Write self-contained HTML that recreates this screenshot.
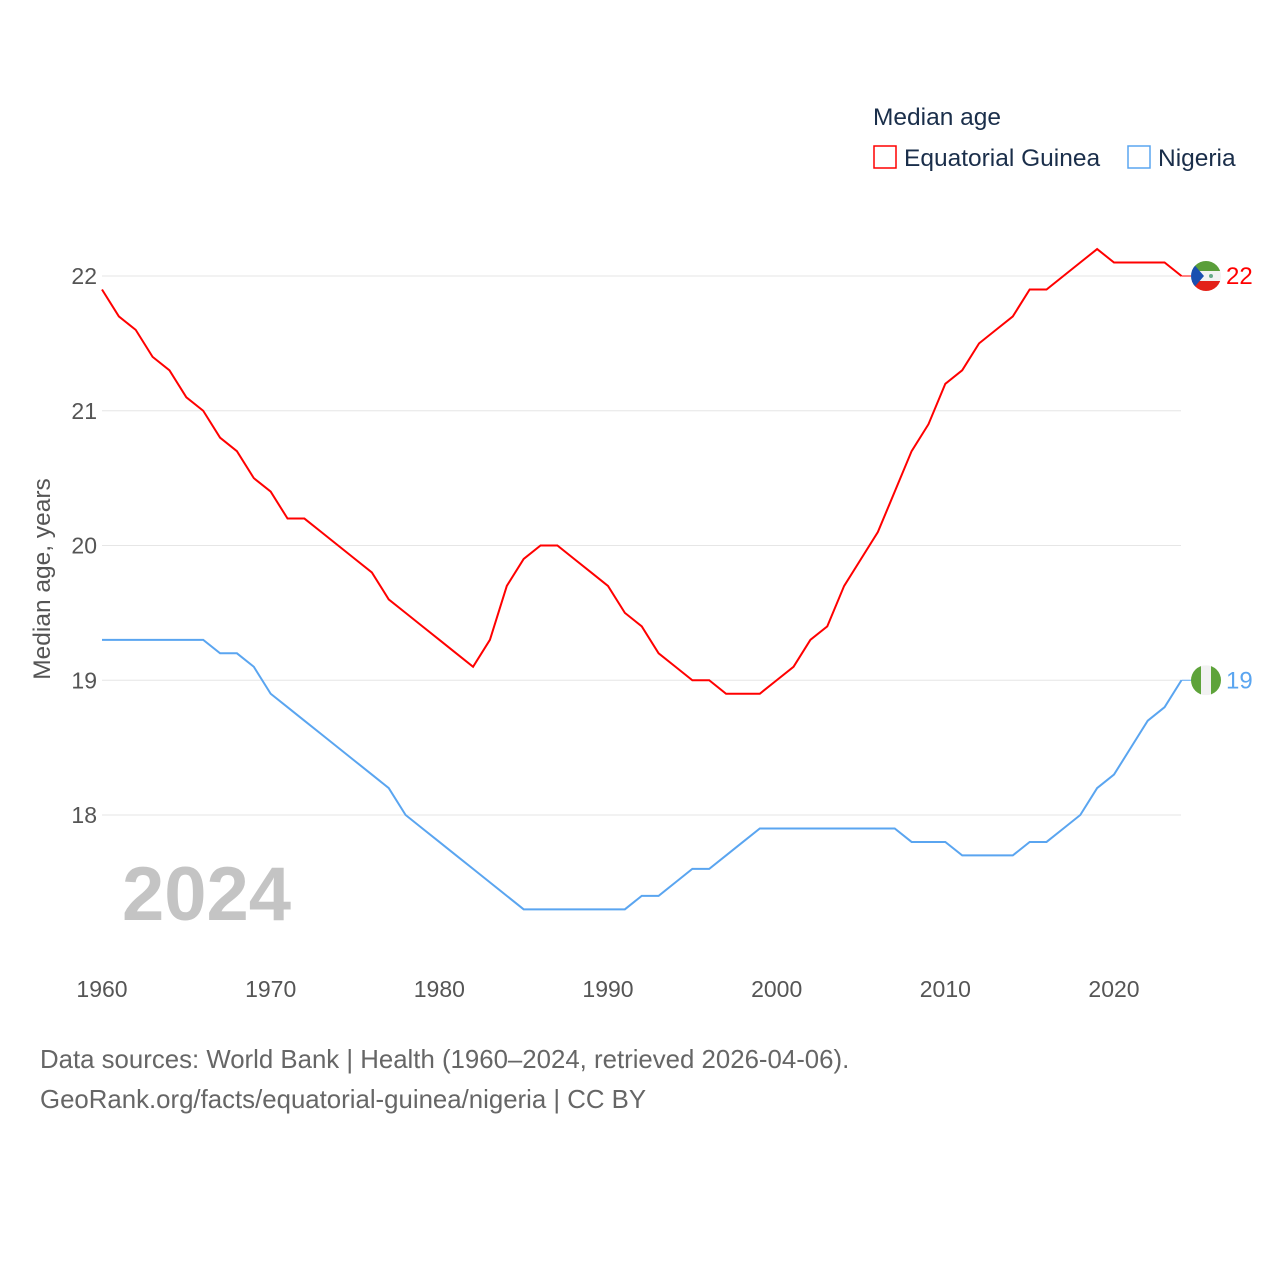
<!DOCTYPE html>
<html><head><meta charset="utf-8"><style>
body{margin:0;background:#fff;font-family:"Liberation Sans",sans-serif}
svg text{font-family:"Liberation Sans",sans-serif}
</style></head><body>
<svg id="c" width="1280" height="1280" viewBox="0 0 1280 1280">
<text x="873" y="125" font-size="24.5" fill="#1a2e4a">Median age</text>
<rect x="874" y="146" width="22" height="22" fill="none" stroke="#f00" stroke-width="1.5"/>
<text x="904" y="166" font-size="24.5" fill="#1a2e4a">Equatorial Guinea</text>
<rect x="1128" y="146" width="22" height="22" fill="none" stroke="#5aa5f0" stroke-width="1.5"/>
<text x="1158" y="166" font-size="24.5" fill="#1a2e4a">Nigeria</text>
<text transform="translate(50,579) rotate(-90)" text-anchor="middle" font-size="24.5" fill="#555">Median age, years</text>
<text x="122" y="920" font-size="76" font-weight="bold" fill="#c4c4c4">2024</text>
<g id="grid"></g><g id="lines"></g>
<text x="40" y="1068" font-size="25.8" fill="#666">Data sources: World Bank | Health (1960–2024, retrieved 2026-04-06).</text>
<text x="40" y="1108" font-size="25.8" fill="#666">GeoRank.org/facts/equatorial-guinea/nigeria | CC BY</text>
</svg>
<script>
const years=[];for(let y=1960;y<=2024;y++)years.push(y);
const eqGuinea=[21.9,21.7,21.6,21.4,21.3,21.1,21.0,20.8,20.7,20.5,20.4,20.2,20.2,20.1,20.0,19.9,19.8,19.6,19.5,19.4,19.3,19.2,19.1,19.3,19.7,19.9,20.0,20.0,19.9,19.8,19.7,19.5,19.4,19.2,19.1,19.0,19.0,18.9,18.9,18.9,19.0,19.1,19.3,19.4,19.7,19.9,20.1,20.4,20.7,20.9,21.2,21.3,21.5,21.6,21.7,21.9,21.9,22.0,22.1,22.2,22.1,22.1,22.1,22.1,22.0];
const nigeria=[19.3,19.3,19.3,19.3,19.3,19.3,19.3,19.2,19.2,19.1,18.9,18.8,18.7,18.6,18.5,18.4,18.3,18.2,18.0,17.9,17.8,17.7,17.6,17.5,17.4,17.3,17.3,17.3,17.3,17.3,17.3,17.3,17.4,17.4,17.5,17.6,17.6,17.7,17.8,17.9,17.9,17.9,17.9,17.9,17.9,17.9,17.9,17.9,17.8,17.8,17.8,17.7,17.7,17.7,17.7,17.8,17.8,17.9,18.0,18.2,18.3,18.5,18.7,18.8,19.0];
const yTicks=[18,19,20,21,22];
const xTicks=[1960,1970,1980,1990,2000,2010,2020];
const X=y=>102+(y-1960)*1012/60, Y=v=>815-(v-18)*134.75;
const NS='http://www.w3.org/2000/svg';
function mk(t,a,p){const e=document.createElementNS(NS,t);for(const k in a)e.setAttribute(k,a[k]);p.appendChild(e);return e;}
const g=document.getElementById('grid'),L=document.getElementById('lines');
yTicks.forEach(v=>{
 const l=mk('line',{x1:102,x2:1181,y1:Y(v),y2:Y(v),stroke:'#e6e6e6'},g);
 
 
 const t=mk('text',{x:97,y:Y(v)+8,'text-anchor':'end','font-size':23,fill:'#555'},g);t.textContent=v;
 
 
});
xTicks.forEach(v=>{
 const t=mk('text',{x:X(v),y:997,'text-anchor':'middle','font-size':23,fill:'#555'},g);t.textContent=v;
 
 
});
function series(d,col,name,flag){
 const p=mk('path',{d:d.map((v,i)=>(i?'L':'M')+X(years[i])+','+Y(v)).join(''),fill:'none',stroke:col,'stroke-width':2},L);
 
 
 const last=d[d.length-1],cy=Y(last),cx=1206;
 mk('line',{x1:X(2024),x2:cx-14,y1:cy,y2:cy,stroke:col,'stroke-width':1},L);
 const fg=mk('g',{},L);
 
 
 flag(fg,cx,cy);
 const t=mk('text',{x:1226,y:cy+8,'font-size':24,fill:col},L);t.textContent=Math.round(last);
 
 
}
series(eqGuinea,'#f00','eq-guinea',(p,cx,cy)=>{
 const cp=mk('clipPath',{id:'ce'},p);mk('circle',{cx,cy,r:15},cp);
 const q=mk('g',{'clip-path':'url(#ce)'},p);
 mk('rect',{x:cx-15,y:cy-15,width:30,height:10,fill:'#5a9e3a'},q);
 mk('rect',{x:cx-15,y:cy-5,width:30,height:10,fill:'#f2f2f2'},q);
 mk('rect',{x:cx-15,y:cy+5,width:30,height:10,fill:'#e32118'},q);
 mk('polygon',{points:`${cx-15},${cy-15} ${cx-2},${cy} ${cx-15},${cy+15}`,fill:'#1a4fb0'},q);
 mk('circle',{cx:cx+5,cy,r:2,fill:'#6a8'},q);
});
series(nigeria,'#5aa5f0','nigeria',(p,cx,cy)=>{
 const cp=mk('clipPath',{id:'cn'},p);mk('circle',{cx,cy,r:15},cp);
 const q=mk('g',{'clip-path':'url(#cn)'},p);
 mk('rect',{x:cx-15,y:cy-15,width:10,height:30,fill:'#5ea33a'},q);
 mk('rect',{x:cx-5,y:cy-15,width:10,height:30,fill:'#f2f2f2'},q);
 mk('rect',{x:cx+5,y:cy-15,width:10,height:30,fill:'#5ea33a'},q);
});
</script>
</body></html>
